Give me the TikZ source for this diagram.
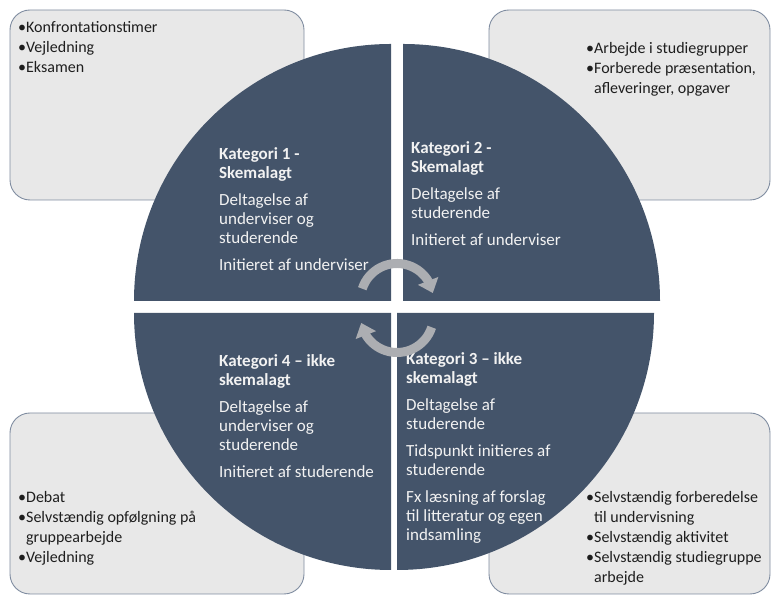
\documentclass[tikz,border=0pt]{standalone}
\usepackage{fontspec}
\setmainfont{Carlito}
\usetikzlibrary{arrows.meta,bending}
\definecolor{kvart}{RGB}{68,84,106}
\definecolor{boksfyld}{RGB}{232,232,232}
\definecolor{bokskant}{RGB}{127,140,160}
\definecolor{pilgraa}{RGB}{172,174,178}
\definecolor{lystekst}{RGB}{242,242,242}
\definecolor{morktekst}{RGB}{30,30,30}

\begin{document}
\begin{tikzpicture}[x=1pt,y=1pt, line cap=round,line join=round,
    boks/.style={draw=bokskant, fill=boksfyld, line width=0.9pt, rounded corners=20pt},
    kattekst/.style={anchor=base west, align=left, inner sep=0pt, text=lystekst,
      font=\fontsize{17}{19}\selectfont},
    punkttekst/.style={anchor=base west, align=left, inner sep=0pt, text=morktekst,
      font=\fontsize{16}{20}\selectfont},
    pil/.style={draw=pilgraa, line width=9pt, line cap=butt,
      -{Triangle[width=21pt,length=13pt,flex]}}]
    \useasboundingbox (0,0) rectangle (771,596);
    % boksene bag cirklen
    \draw [boks] (10,396) rectangle (304,586);
    \draw [boks] (489,396) rectangle (770,586);
    \draw [boks] (10,2) rectangle (304,183);
    \draw [boks] (489,2) rectangle (770,183);
    % de fire kvarte cirkler
    \fill [color=kvart] (391,295) -- (134,295) arc (180:90:257) -- cycle;
    \fill [color=kvart] (403,295) -- (403,552) arc (90:0:257) -- cycle;
    \fill [color=kvart] (391,283) -- (134,283) arc (180:270:257) -- cycle;
    \fill [color=kvart] (397,283) -- (654,283) arc (0:-90:257) -- cycle;
    % tekst i kvartcirklerne (base = sidste linje)
    \draw (219,325) node[kattekst] (kat1) {\textbf{Kategori 1 -}\\ \textbf{Skemalagt}\\[8pt]
      Deltagelse af\\ underviser og\\ studerende\\[8pt] Initieret af underviser};
    \draw (411,350) node[kattekst] (kat2) {\textbf{Kategori 2 -}\\ \textbf{Skemalagt}\\[8pt]
      Deltagelse af\\ studerende\\[8pt] Initieret af underviser};
    \draw (219,118) node[kattekst] (kat4) {\textbf{Kategori 4 – ikke}\\ \textbf{skemalagt}\\[8pt]
      Deltagelse af\\ underviser og\\ studerende\\[8pt] Initieret af studerende};
    \draw (406,55) node[kattekst] (kat3) {\textbf{Kategori 3 – ikke}\\ \textbf{skemalagt}\\[8pt]
      Deltagelse af\\ studerende\\[8pt] Tidspunkt initieres af\\ studerende\\[8pt]
      Fx læsning af forslag\\ til litteratur og egen\\ indsamling};
    % punkter i boksene
    \draw (18,523) node[punkttekst] (punkt1) {•Konfrontationstimer\\ •Vejledning\\ •Eksamen};
    \draw (586,502) node[punkttekst] (punkt2) {•Arbejde i studiegrupper\\ •Forberede præsentation,\\
      \phantom{•}afleveringer, opgaver};
    \draw (18,33) node[punkttekst] (punkt4) {•Debat\\ •Selvstændig opfølgning på\\
      \phantom{•}gruppearbejde\\ •Vejledning};
    \draw (586,13) node[punkttekst] (punkt3) {•Selvstændig forberedelse\\ \phantom{•}til undervisning\\
      •Selvstændig aktivitet\\ •Selvstændig studiegruppe\\ \phantom{•}arbejde};
    % kredsloebspilene i midten
    \draw [pil] (397,296) ++(162:36.5) arc (162:11:36.5);
    \draw [pil] (397,280) ++(-18:36.5) arc (-18:-169:36.5);
  \end{tikzpicture}
\end{document}
